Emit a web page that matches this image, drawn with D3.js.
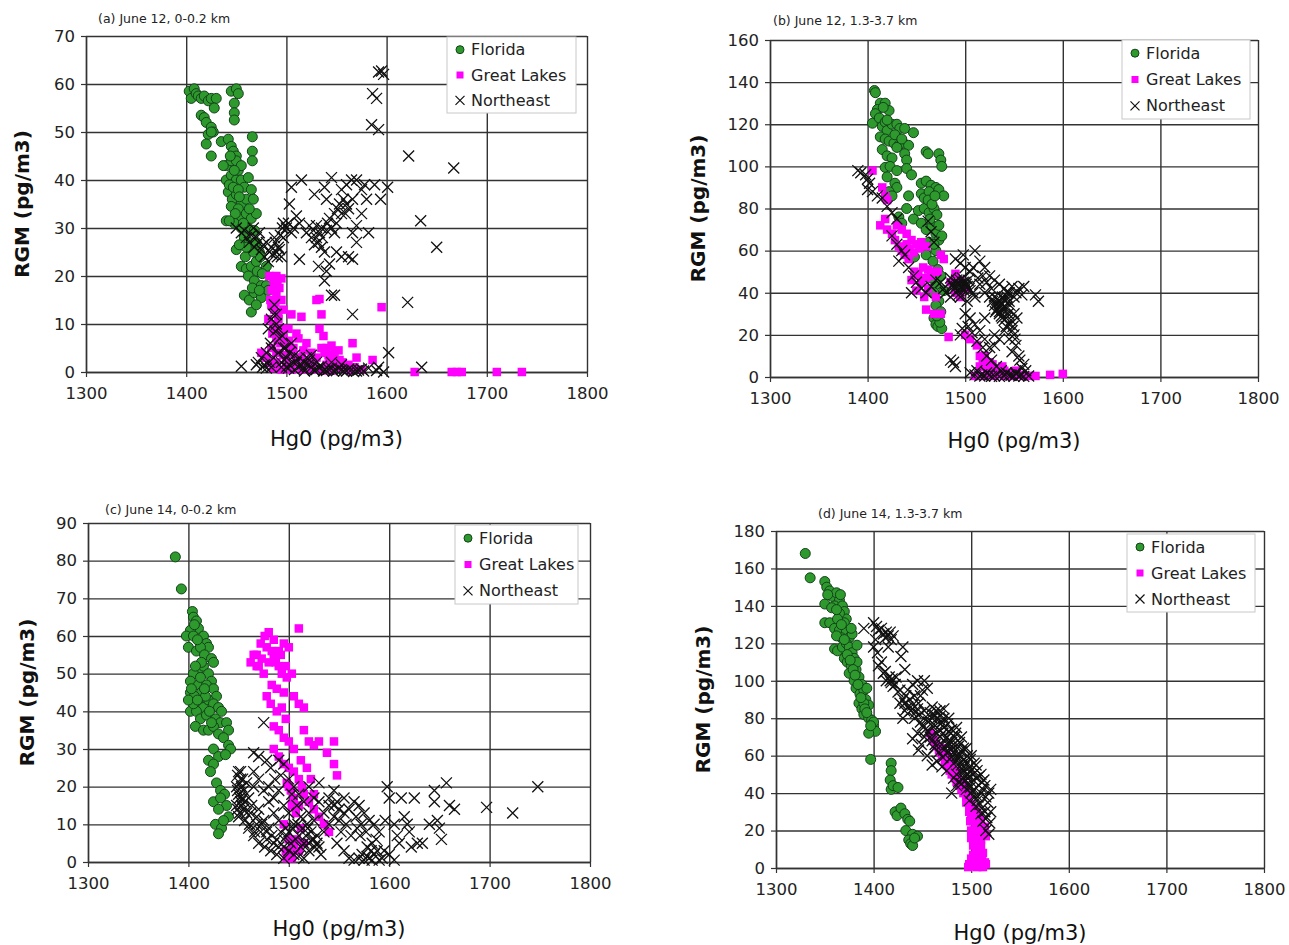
<!DOCTYPE html>
<html><head><meta charset="utf-8">
<script src="https://cdn.jsdelivr.net/npm/d3@7"></script>
<style>body{margin:0;background:#fff}svg{display:block}</style>
</head><body>
<svg id="chart" width="1289" height="945"></svg>
<script>
// ---------- data ----------
const xTicks = [1300,1400,1500,1600,1700,1800];
const yTicksA = [0,10,20,30,40,50,60,70];
const yTicksB = [0,20,40,60,80,100,120,140,160];
const yTicksC = [0,10,20,30,40,50,60,70,80,90];
const yTicksD = [0,20,40,60,80,100,120,140,160,180];
const seriesNames = ["Florida","Great Lakes","Northeast"];
const panelTitles = ["(a) June 12, 0-0.2 km","(b) June 12, 1.3-3.7 km","(c) June 14, 0-0.2 km","(d) June 14, 1.3-3.7 km"];
const xTitle = "Hg0 (pg/m3)";
const yTitle = "RGM (pg/m3)";

const floridaA = [[1403,58.5],[1405,57],[1408,59],[1410,58],[1412,57.5],[1415,57],[1418,57.5],[1422,56.5],[1425,57],[1430,57],[1428,55],[1445,58.5],[1450,59],[1452,58],[1448,56],[1448,54],[1448,52.5],[1415,53.5],[1418,53],[1420,52],[1425,51],[1427,50],[1422,49.5],[1425,50],[1420,47.5],[1425,45],[1435,48],[1442,48.5],[1445,47],[1447,46],[1450,45],[1466,49],[1466,46],[1466,44],[1440,43],[1445,44],[1450,44],[1452,42],[1455,43],[1440,40],[1445,41],[1450,40],[1455,40],[1458,38.5],[1462,40.5],[1465,38],[1442,37.5],[1446,36],[1450,37],[1455,35],[1460,36],[1467,36],[1445,34.5],[1452,34],[1456,32],[1460,33],[1465,32],[1470,33],[1440,31.5],[1448,31],[1455,30],[1462,30],[1468,29.5],[1458,28],[1463,27],[1470,27],[1473,25],[1450,25.5],[1455,22],[1460,21.5],[1465,22],[1470,23],[1474,24],[1478,21],[1462,20],[1468,19],[1475,18],[1458,16],[1463,15],[1468,16.5],[1475,15.5],[1465,12.5],[1470,14],[1480,18],[1480,22],[1482,17],[1443,39],[1447,38.5],[1452,38],[1448,42],[1444,45],[1453,36.5],[1457,31],[1449,33],[1463,34],[1459,24],[1467,25],[1471,21],[1476,20.5],[1466,17.5],[1473,17],[1460,26],[1453,26.5],[1437,43],[1443,31.5]];
const greatLakesA = [[1483,20],[1490,20],[1495,19.5],[1485,17],[1490,16],[1495,15],[1485,14],[1488,13],[1492,12],[1497,13],[1505,12],[1515,11.5],[1530,15],[1533,15.2],[1535,12],[1595,13.5],[1482,11],[1488,10],[1495,9],[1502,9],[1510,8],[1533,9],[1537,7.5],[1486,8],[1490,7],[1494,6],[1500,5.5],[1512,7],[1520,6],[1540,5],[1545,5.5],[1548,4],[1545,3],[1566,6],[1570,3],[1586,2.5],[1475,4],[1480,3],[1490,2],[1500,1.5],[1510,2],[1520,2],[1530,3],[1540,1.5],[1550,1],[1556,2],[1560,0.5],[1575,0.5],[1495,0.5],[1505,0.5],[1515,0.5],[1525,0.5],[1535,0.3],[1545,0.3],[1565,0.3],[1628,0],[1665,0],[1670,0],[1675,0],[1710,0],[1735,0],[1490,4],[1497,3.5],[1505,4],[1515,3],[1543,2],[1552,4.5],[1488,18],[1493,17.5],[1487,19],[1491,18.5],[1484,15],[1489,14.5],[1492,11],[1487,9.5],[1492,8.5],[1497,7],[1503,6.5],[1507,5],[1517,4.5],[1525,4],[1535,5],[1538,4],[1542,3.5],[1548,2],[1553,2.5],[1558,1],[1562,1.5],[1568,1],[1485,5],[1483,2],[1487,0.8],[1500,2.5],[1510,3],[1527,2]];
const northeastA = [[1592,62.5],[1595,62.7],[1597,62],[1586,58],[1590,57],[1585,51.5],[1592,50.5],[1622,45],[1667,42.5],[1634,31.5],[1650,26],[1621,14.5],[1602,4],[1635,1],[1597,0],[1515,40],[1505,38.5],[1503,35],[1497,31],[1500,30],[1505,29],[1510,32.5],[1513,31],[1528,37],[1538,38.5],[1540,36],[1545,40.5],[1555,38],[1560,39],[1565,40],[1570,40],[1575,38],[1578,39],[1580,36],[1588,39],[1594,36],[1601,38.5],[1560,35],[1562,34],[1555,33],[1550,31],[1545,30],[1540,29.5],[1535,30],[1530,28],[1532,27],[1535,26],[1538,25],[1532,22],[1540,21],[1538,19],[1545,16],[1555,24],[1562,24],[1566,23.5],[1570,27],[1575,33],[1582,29],[1566,29],[1513,23.5],[1553,35],[1548,29],[1543,32],[1566,36],[1523,30.5],[1527,29.5],[1530,30.5],[1570,30.5],[1543,22.5],[1550,25],[1455,29],[1460,28],[1463,27],[1468,26],[1472,27],[1475,25.5],[1480,27],[1483,25],[1486,24.5],[1490,25],[1492,26],[1488,28],[1494,28.5],[1496,30],[1478,24],[1470,28],[1450,30],[1458,29.5],[1488,14],[1490,12],[1485,11],[1482,9],[1490,10],[1493,7],[1485,5],[1480,4],[1475,3],[1472,2],[1478,1.5],[1485,1],[1455,1.2],[1492,4],[1497,5],[1500,3],[1505,6],[1510,2],[1515,1.5],[1520,3],[1525,1],[1530,0.5],[1535,1.2],[1540,0.3],[1545,0.8],[1550,0.3],[1555,0.5],[1560,0.2],[1565,0.5],[1570,0.2],[1575,0.6],[1582,0.8],[1590,0.3],[1566,12],[1548,16],[1592,1],[1500,1],[1508,0.5],[1518,0.2],[1528,0.3],[1538,0.5],[1495,2],[1503,1.5],[1495,1],[1498,2.5],[1502,0.8],[1507,2],[1512,1],[1517,0.8],[1522,1.5],[1527,0.5],[1532,1],[1537,0.2],[1542,0.6],[1547,0.2],[1552,0.8],[1557,0.2],[1562,0.6],[1567,0.1],[1572,0.4],[1577,0.2],[1487,3],[1484,6],[1489,8.5],[1492,9],[1496,7.5],[1499,5],[1503,4],[1508,3.5],[1513,3],[1518,2],[1523,2.5],[1487,12],[1483,2],[1476,1],[1470,1.5],[1480,0.8],[1525,3.5],[1530,2],[1545,2],[1555,1.5],[1465,28.5],[1467,30],[1473,29],[1477,26.5],[1485,26],[1489,27],[1491,24],[1493,25.5],[1497,28],[1502,31],[1507,30],[1495,24],[1482,23],[1520,29],[1525,28],[1528,26.5],[1533,29],[1536,28],[1541,31],[1548,33],[1551,34],[1557,36],[1559,33]];

const floridaB = [[1407,136],[1408,135],[1413,130],[1410,127],[1418,130],[1422,126.5],[1405,120.5],[1408,125],[1412,123],[1415,119],[1418,121],[1420,117],[1425,120],[1430,120],[1433,118],[1438,118],[1413,114],[1418,113],[1422,112],[1427,111],[1432,110],[1437,111],[1442,110],[1447,116],[1415,108],[1420,105],[1425,104],[1430,109],[1438,106],[1440,103],[1460,107],[1462,106],[1473,106],[1475,103],[1476,100],[1418,99.5],[1423,100],[1430,98],[1440,99],[1445,96],[1455,92],[1460,93],[1465,91],[1470,90],[1420,95],[1428,92],[1430,90],[1442,86],[1455,87],[1458,85],[1463,88],[1473,89],[1478,86],[1422,88],[1425,86],[1440,80],[1452,79],[1458,80],[1463,78],[1468,80],[1471,77],[1432,76],[1435,73],[1447,75],[1455,73],[1460,70],[1466,72],[1470,68],[1473,65],[1476,67],[1463,64],[1470,60],[1460,58],[1448,57],[1467,55],[1472,51],[1475,48],[1470,44],[1468,40],[1473,36],[1470,34],[1475,31],[1468,28],[1470,25],[1472,24],[1476,23],[1465,47],[1478,41],[1416,128],[1420,122],[1428,115],[1435,113],[1462,84],[1466,82],[1469,86],[1464,75],[1473,72],[1468,63],[1474,26],[1471,29]];
const greatLakesB = [[1405,98],[1415,90],[1418,86],[1420,84],[1413,72],[1418,75],[1420,70],[1425,68],[1430,72],[1435,70],[1428,65],[1432,62],[1435,60],[1440,63],[1445,65],[1438,58],[1442,56],[1450,63],[1455,64],[1460,62],[1448,50],[1452,49],[1445,46],[1455,45],[1460,47],[1462,42],[1450,41],[1458,38],[1468,50],[1472,50],[1475,58],[1478,56],[1470,38],[1460,32],[1468,30],[1475,30],[1485,45],[1490,49],[1495,46],[1500,42],[1483,19],[1500,20],[1505,18],[1512,15],[1515,10],[1518,8],[1520,5],[1525,7],[1530,3],[1535,4],[1540,3],[1545,1],[1550,2],[1555,1],[1560,0.5],[1565,0.5],[1572,0.5],[1587,1],[1600,1.5],[1510,0.5],[1520,0.5],[1530,0.5],[1540,0.5],[1515,5],[1525,1],[1495,38],[1490,40],[1520,10],[1523,4],[1528,6],[1533,2],[1538,5],[1543,2],[1548,0.5],[1552,3],[1440,68],[1443,61],[1447,59],[1453,61],[1457,52],[1462,51],[1465,48]];
const northeastB = [[1390,98],[1393,97],[1398,96],[1400,94],[1402,92],[1400,89],[1405,88],[1410,86],[1415,85],[1420,81],[1425,78],[1430,75],[1425,67],[1430,63],[1435,60],[1438,58],[1432,55],[1442,52],[1447,48],[1450,45],[1445,40],[1455,42],[1460,40],[1465,43],[1470,46],[1475,45],[1478,42],[1480,40],[1485,38],[1488,43],[1490,45],[1492,44],[1495,46],[1497,42],[1500,45],[1502,43],[1505,41],[1508,40],[1510,38],[1485,47],[1490,56],[1495,54],[1500,52],[1505,50],[1510,60],[1515,55],[1520,52],[1525,48],[1530,46],[1535,44],[1540,42],[1545,40],[1550,38],[1555,42],[1560,43],[1572,39],[1575,36],[1515,44],[1520,40],[1525,38],[1528,36],[1530,34],[1532,32],[1535,30],[1537,35],[1540,33],[1542,28],[1545,25],[1548,22],[1550,20],[1540,22],[1535,18],[1530,15],[1552,15],[1555,10],[1560,6],[1562,3],[1500,30],[1505,28],[1510,25],[1515,22],[1520,18],[1525,14],[1495,20],[1502,36],[1530,20],[1485,8],[1490,5],[1488,7],[1505,2],[1510,1],[1515,0.5],[1520,0.5],[1525,1],[1530,0.5],[1535,0.3],[1540,0.5],[1545,1],[1550,0.3],[1555,0.5],[1560,0.3],[1565,0.5],[1532,35],[1538,38],[1545,36],[1535,31],[1538,28],[1542,33],[1500,43],[1497,47],[1493,41],[1545,18],[1553,28],[1550,30],[1520,28],[1495,38],[1468,64],[1465,69],[1462,74],[1487,44],[1489,42],[1491,46],[1494,44],[1496,43],[1498,45],[1499,41],[1501,44],[1503,46],[1504,42],[1493,39],[1491,43],[1530,38],[1533,37],[1535,36],[1536,34],[1538,32],[1534,33],[1531,31],[1537,29],[1539,37],[1541,36],[1543,38],[1546,34],[1544,30],[1540,27],[1542,24],[1547,27],[1549,24],[1551,18],[1548,12],[1556,8],[1558,4],[1552,2],[1543,40],[1548,43],[1552,40],[1558,39],[1497,23],[1503,24],[1507,21],[1512,17],[1518,14],[1522,10],[1527,8],[1532,5],[1537,3],[1542,2],[1547,0.8],[1552,1.5],[1557,0.8],[1512,3],[1517,1],[1522,2],[1527,0.3],[1518,48],[1522,45],[1527,42],[1513,47],[1508,52],[1498,58]];

const floridaC = [[1387,81],[1393,72.5],[1404,66.5],[1405,65],[1408,64],[1410,62],[1402,61.5],[1398,60],[1405,60],[1412,58],[1415,60],[1418,58],[1420,57],[1400,57],[1408,56],[1412,57],[1416,55],[1423,54],[1425,53],[1410,51],[1405,50],[1415,52],[1420,50],[1423,48],[1402,48],[1410,47],[1413,45],[1418,47],[1425,46],[1428,44],[1402,45],[1406,44],[1410,42],[1415,41],[1420,43],[1425,42],[1430,41],[1433,40],[1402,40],[1408,40],[1412,38],[1418,39],[1427,38],[1432,37],[1438,37],[1440,35],[1407,36],[1415,35],[1420,35],[1425,36],[1430,34],[1435,33],[1440,31],[1442,30],[1425,30],[1430,28],[1437,28.5],[1420,27],[1425,26],[1422,24],[1428,21],[1432,19],[1436,18],[1425,16],[1432,17],[1438,15],[1430,14],[1440,12],[1427,10],[1433,9],[1430,7.5],[1435,11],[1405,42],[1417,44],[1400,43],[1406,63],[1409,59],[1413,53],[1407,52],[1403,46],[1412,49],[1416,46],[1421,40],[1409,43],[1423,37]];
const greatLakesC = [[1462,53],[1468,55],[1472,58],[1476,60],[1480,61],[1485,59],[1490,56],[1495,58],[1500,57],[1510,62],[1470,52],[1475,50],[1480,53],[1485,55],[1490,52],[1493,50],[1498,49],[1503,50],[1505,44],[1510,42],[1515,41],[1478,44],[1482,42],[1488,40],[1493,41],[1497,38],[1485,36],[1490,35],[1495,33],[1500,32],[1505,30],[1515,35],[1520,32],[1525,31],[1530,32],[1538,29],[1545,32],[1548,23],[1545,26],[1485,30],[1490,28],[1495,26],[1500,25],[1505,24],[1510,22],[1513,20],[1498,21],[1502,19],[1505,17],[1510,15],[1515,18],[1520,16],[1525,14],[1530,12],[1535,10],[1540,8],[1495,10],[1500,6],[1505,4],[1510,3],[1498,1],[1502,2],[1515,5],[1483,47],[1488,46],[1495,45],[1512,27],[1518,25],[1522,22],[1525,18],[1465,55],[1468,52],[1473,54],[1478,57],[1483,56],[1487,53],[1492,55],[1497,52],[1500,20],[1503,15],[1507,13],[1512,9],[1497,3],[1503,1],[1508,6]];
const northeastC = [[1475,37],[1465,29],[1470,28],[1478,27],[1482,25],[1490,27],[1495,26],[1450,24],[1452,22],[1448,20],[1450,18],[1452,16],[1448,15],[1455,14],[1450,12],[1455,19],[1458,21],[1460,17],[1465,20],[1470,22],[1475,19],[1480,16],[1485,13],[1490,11],[1462,13],[1468,10],[1472,8],[1478,6],[1485,5],[1490,4],[1495,6],[1500,8],[1505,10],[1510,7],[1515,5],[1520,3],[1525,6],[1530,4],[1465,24],[1470,14],[1475,11],[1480,9],[1485,17],[1490,19],[1495,15],[1500,13],[1503,18],[1508,15],[1512,12],[1518,10],[1522,8],[1528,5],[1460,9],[1465,7],[1470,5],[1476,4],[1482,3],[1488,2],[1495,1],[1500,3],[1505,2],[1510,1.5],[1515,1],[1545,19],[1548,16],[1550,14],[1545,12],[1540,10],[1535,13],[1530,16],[1525,17],[1555,17],[1560,14],[1565,16],[1570,15],[1575,13],[1580,11],[1585,10],[1590,8],[1552,8],[1548,5],[1555,3],[1560,1],[1565,0.5],[1570,1],[1575,0.5],[1580,1],[1585,2],[1590,0.5],[1595,3],[1598,20],[1600,17],[1605,10],[1608,7],[1610,5],[1612,17],[1615,12],[1618,10],[1620,8],[1622,4],[1600,2],[1605,0.5],[1625,17],[1628,5],[1633,5],[1640,10],[1645,16],[1645,19],[1648,11],[1650,9],[1652,6],[1657,21],[1660,15],[1665,14],[1697,14.5],[1723,13],[1748,20],[1571,7],[1568,9],[1578,4],[1582,3],[1587,6],[1596,11],[1535,8],[1532,2],[1515,16],[1520,20],[1530,21],[1540,17],[1480,20],[1486,22],[1492,23],[1449,23],[1451,21],[1453,20],[1449,19],[1451,17],[1453,15],[1449,14],[1451,13],[1454,17],[1456,16],[1452,24],[1454,22],[1495,4],[1498,7],[1502,5],[1507,6],[1512,4],[1517,7],[1520,5],[1523,6],[1526,4],[1528,7],[1519,9],[1514,9],[1509,10],[1504,9],[1497,9],[1492,8],[1488,6],[1483,7],[1478,8],[1473,10],[1468,12],[1463,15],[1458,13],[1456,11],[1461,10],[1466,8],[1500,22],[1505,20],[1510,18],[1520,13],[1525,11],[1540,15],[1545,15],[1550,11],[1555,13],[1557,10],[1562,7],[1567,12],[1572,10],[1577,8],[1583,5],[1588,3],[1593,1],[1573,2],[1578,1.5],[1583,0.5]];

const floridaD = [[1330,168],[1335,155],[1350,153],[1352,150],[1355,148],[1350,141],[1358,145],[1362,147],[1365,143],[1360,140],[1368,140],[1370,137],[1372,133],[1365,136],[1350,131],[1355,131],[1360,128],[1365,127],[1370,131],[1372,126],[1375,123],[1360,117],[1363,116],[1368,118],[1372,120],[1375,118],[1378,115],[1370,112],[1373,110],[1377,108],[1380,112],[1382,106],[1375,104],[1380,100],[1385,102],[1388,98],[1382,96],[1386,93],[1390,95],[1393,96],[1385,88],[1388,85],[1392,90],[1395,87],[1390,82],[1395,80],[1398,79],[1400,76],[1402,73],[1395,72],[1400,78],[1397,58],[1418,56],[1418,52],[1417,47],[1418,42],[1420,44],[1425,43],[1422,30],[1424,28],[1428,32],[1432,29],[1435,26],[1437,25],[1433,20],[1440,18],[1436,15],[1438,13],[1440,12],[1445,17],[1442,16],[1378,125],[1383,110],[1390,88],[1367,123],[1353,146],[1357,139],[1363,133],[1367,130],[1362,124],[1370,122],[1373,114],[1376,111],[1379,106],[1381,103],[1384,98],[1387,91],[1391,85],[1393,83],[1397,76],[1383,119],[1377,128],[1366,146],[1362,138]];
const greatLakesD = [[1458,72],[1462,68],[1465,65],[1468,62],[1470,60],[1473,57],[1475,55],[1478,52],[1480,50],[1483,48],[1485,46],[1488,44],[1490,42],[1492,40],[1495,38],[1497,36],[1500,34],[1502,32],[1505,30],[1508,28],[1500,28],[1502,25],[1505,22],[1508,20],[1510,18],[1500,16],[1505,15],[1510,12],[1515,17],[1512,8],[1505,10],[1508,5],[1500,5],[1503,3],[1505,2],[1510,1],[1515,2],[1500,1],[1497,0.5],[1512,0.5],[1495,40],[1490,46],[1485,52],[1480,56],[1475,60],[1470,64],[1493,44],[1498,30],[1500,20],[1510,25],[1514,22],[1460,70],[1464,66],[1467,63],[1472,61],[1476,57],[1479,54],[1482,51],[1486,48],[1489,45],[1492,43],[1495,35],[1498,33],[1502,29],[1505,26],[1508,23],[1499,25],[1503,20],[1506,18],[1510,15],[1502,12],[1507,8],[1511,5],[1514,3],[1502,7],[1498,2],[1506,0.5],[1509,3]];
const northeastD = [[1390,128],[1400,131],[1403,129],[1405,127],[1410,125],[1413,126],[1415,124],[1418,122],[1400,118],[1402,122],[1408,110],[1405,108],[1410,104],[1413,100],[1416,102],[1418,99],[1420,97],[1423,102],[1428,113],[1430,118],[1432,106],[1425,94],[1430,90],[1432,88],[1435,86],[1438,84],[1440,87],[1442,80],[1445,85],[1448,92],[1450,95],[1452,100],[1455,96],[1430,80],[1440,69],[1445,72],[1448,78],[1450,76],[1453,74],[1455,80],[1458,83],[1460,86],[1462,82],[1465,80],[1468,84],[1470,78],[1458,70],[1460,68],[1463,66],[1465,72],[1468,70],[1470,66],[1472,63],[1475,70],[1478,68],[1480,65],[1482,62],[1485,60],[1487,58],[1490,55],[1492,52],[1495,50],[1497,48],[1500,46],[1455,60],[1460,55],[1465,57],[1470,54],[1475,52],[1478,58],[1485,50],[1490,45],[1472,75],[1477,73],[1483,70],[1487,65],[1490,62],[1493,58],[1495,56],[1498,54],[1500,52],[1502,50],[1505,48],[1508,44],[1510,40],[1512,42],[1515,38],[1518,40],[1520,42],[1505,55],[1510,50],[1513,47],[1503,42],[1507,38],[1500,40],[1498,36],[1505,33],[1510,29],[1512,25],[1515,20],[1518,18],[1520,30],[1480,40],[1485,44],[1495,42],[1500,60],[1495,64],[1490,70],[1485,75],[1477,80],[1472,85],[1408,128],[1412,123],[1417,126],[1420,124],[1415,118],[1404,115],[1412,105],[1417,100],[1419,101],[1422,98],[1427,95],[1433,92],[1437,90],[1440,85],[1443,83],[1447,82],[1452,84],[1456,78],[1460,80],[1463,76],[1467,74],[1469,77],[1471,72],[1474,69],[1476,66],[1479,63],[1481,60],[1484,57],[1486,55],[1489,52],[1491,50],[1494,47],[1496,45],[1499,43],[1501,41],[1504,38],[1506,36],[1509,34],[1511,32],[1514,30],[1516,27],[1519,24],[1517,35],[1514,44],[1511,46],[1508,49],[1506,52],[1503,56],[1499,58],[1496,60],[1492,64],[1488,67],[1484,72],[1480,74],[1476,77],[1472,80],[1468,81],[1464,84],[1460,76],[1456,73],[1452,70],[1449,66],[1446,63],[1482,48],[1487,46],[1492,48],[1497,50],[1493,54],[1488,60],[1484,63],[1480,67],[1476,62],[1471,59],[1467,62],[1462,64],[1442,92],[1446,88],[1435,95],[1440,98],[1445,100],[1432,84],[1427,88]];

// ---------- layout ----------
const panels = [
  {title:panelTitles[0], yTicks:yTicksA, fl:floridaA, gl:greatLakesA, ne:northeastA,
   L:86, R:587, T:36, B:372, titleX:98, titleY:23, legX:447, legY:37, legW:129, legH:76, yTitleX:22, xTitleY:446},
  {title:panelTitles[1], yTicks:yTicksB, fl:floridaB, gl:greatLakesB, ne:northeastB,
   L:770, R:1258, T:40, B:377, titleX:773, titleY:25, legX:1122, legY:40, legW:128, legH:79, yTitleX:698, xTitleY:448},
  {title:panelTitles[2], yTicks:yTicksC, fl:floridaC, gl:greatLakesC, ne:northeastC,
   L:88, R:590, T:523, B:862, titleX:105, titleY:514, legX:455, legY:525, legW:123, legH:79, yTitleX:27, xTitleY:936},
  {title:panelTitles[3], yTicks:yTicksD, fl:floridaD, gl:greatLakesD, ne:northeastD,
   L:776, R:1264, T:531, B:868, titleX:818, titleY:518, legX:1127, legY:534, legW:128, legH:78, yTitleX:703, xTitleY:940}
];

const svg = d3.select("#chart");
const FONT = "DejaVu Sans, Verdana, sans-serif";
const GRID = "#333";
const FL_FILL = "#2e9a2e", FL_STROKE = "#14421a", GL_FILL = "#ff00ff";

function drawX(g, cx, cy, s, w){
  g.append("path").attr("d",`M${cx-s},${cy-s}L${cx+s},${cy+s}M${cx-s},${cy+s}L${cx+s},${cy-s}`)
   .attr("stroke","#111").attr("stroke-width",w||1.3).attr("fill","none");
}

panels.forEach(p=>{
  const x = d3.scaleLinear().domain([1300,1800]).range([p.L,p.R]);
  const yMax = p.yTicks[p.yTicks.length-1];
  const y = d3.scaleLinear().domain([0,yMax]).range([p.B,p.T]);
  const g = svg.append("g");

  g.append("rect").attr("x",p.L).attr("y",p.T).attr("width",p.R-p.L).attr("height",p.B-p.T).attr("fill","#fff");

  const gx = g.append("g").attr("transform",`translate(0,${p.B})`)
    .call(d3.axisBottom(x).tickValues(xTicks).tickSize(-(p.B-p.T)).tickSizeOuter(0).tickFormat(""));
  gx.select(".domain").remove();
  gx.selectAll("line").attr("stroke",GRID).attr("stroke-width",1.4);
  const gy = g.append("g").attr("transform",`translate(${p.L},0)`)
    .call(d3.axisLeft(y).tickValues(p.yTicks).tickSize(-(p.R-p.L)).tickSizeOuter(0).tickFormat(""));
  gy.select(".domain").remove();
  gy.selectAll("line").attr("stroke",GRID).attr("stroke-width",1.4);

  const ax = g.append("g").attr("transform",`translate(0,${p.B})`)
    .call(d3.axisBottom(x).tickValues(xTicks).tickSize(5).tickSizeOuter(0).tickFormat(d3.format("d")).tickPadding(10));
  ax.select(".domain").attr("stroke",GRID).attr("stroke-width",1.4);
  ax.selectAll("line").attr("stroke",GRID).attr("stroke-width",1.2);
  ax.selectAll("text").attr("font-family",FONT).attr("font-size",16.5).attr("fill","#222");
  const ay = g.append("g").attr("transform",`translate(${p.L},0)`)
    .call(d3.axisLeft(y).tickValues(p.yTicks).tickSize(5).tickSizeOuter(0).tickFormat(d3.format("d")).tickPadding(6));
  ay.select(".domain").attr("stroke",GRID).attr("stroke-width",1.4);
  ay.selectAll("line").attr("stroke",GRID).attr("stroke-width",1.2);
  ay.selectAll("text").attr("font-family",FONT).attr("font-size",16.5).attr("fill","#222");

  g.append("g").selectAll("circle").data(p.fl).join("circle")
    .attr("cx",d=>x(d[0])).attr("cy",d=>y(d[1])).attr("r",5)
    .attr("fill",FL_FILL).attr("stroke",FL_STROKE).attr("stroke-width",1);
  g.append("g").selectAll("rect").data(p.gl).join("rect")
    .attr("x",d=>x(d[0])-4.25).attr("y",d=>y(d[1])-4.25).attr("width",8.5).attr("height",8.5)
    .attr("fill",GL_FILL);
  const neG = g.append("g");
  p.ne.forEach(d=>drawX(neG, x(d[0]), y(d[1]), 5.5, 1.3));

  g.append("text").attr("x",p.titleX).attr("y",p.titleY).text(p.title)
    .attr("font-family",FONT).attr("font-size",12.5).attr("fill","#222");

  g.append("text").attr("x",(p.L+p.R)/2).attr("y",p.xTitleY).attr("text-anchor","middle")
    .text(xTitle).attr("font-family",FONT).attr("font-size",21).attr("fill","#111");
  g.append("text").attr("transform",`translate(${p.yTitleX},${(p.T+p.B)/2}) rotate(-90)`)
    .attr("text-anchor","middle").attr("dominant-baseline","central")
    .text(yTitle).attr("font-family",FONT).attr("font-weight","bold").attr("font-size",20).attr("fill","#111");

  const lg = g.append("g");
  lg.append("rect").attr("x",p.legX).attr("y",p.legY).attr("width",p.legW).attr("height",p.legH)
    .attr("fill","#fff").attr("stroke","#c8c8c8").attr("stroke-width",1);
  const rowH = p.legH/3;
  seriesNames.forEach((n,i)=>{
    const cy = p.legY + rowH*(i+0.5);
    const mx = p.legX + 13;
    if(i===0) lg.append("circle").attr("cx",mx).attr("cy",cy).attr("r",4).attr("fill",FL_FILL).attr("stroke",FL_STROKE);
    if(i===1) lg.append("rect").attr("x",mx-3.5).attr("y",cy-3.5).attr("width",7).attr("height",7).attr("fill",GL_FILL);
    if(i===2) drawX(lg, mx, cy, 4.5, 1.2);
    lg.append("text").attr("x",mx+11).attr("y",cy).attr("dominant-baseline","central")
      .text(n).attr("font-family",FONT).attr("font-size",16).attr("fill","#222");
  });
});
</script>
</body></html>
